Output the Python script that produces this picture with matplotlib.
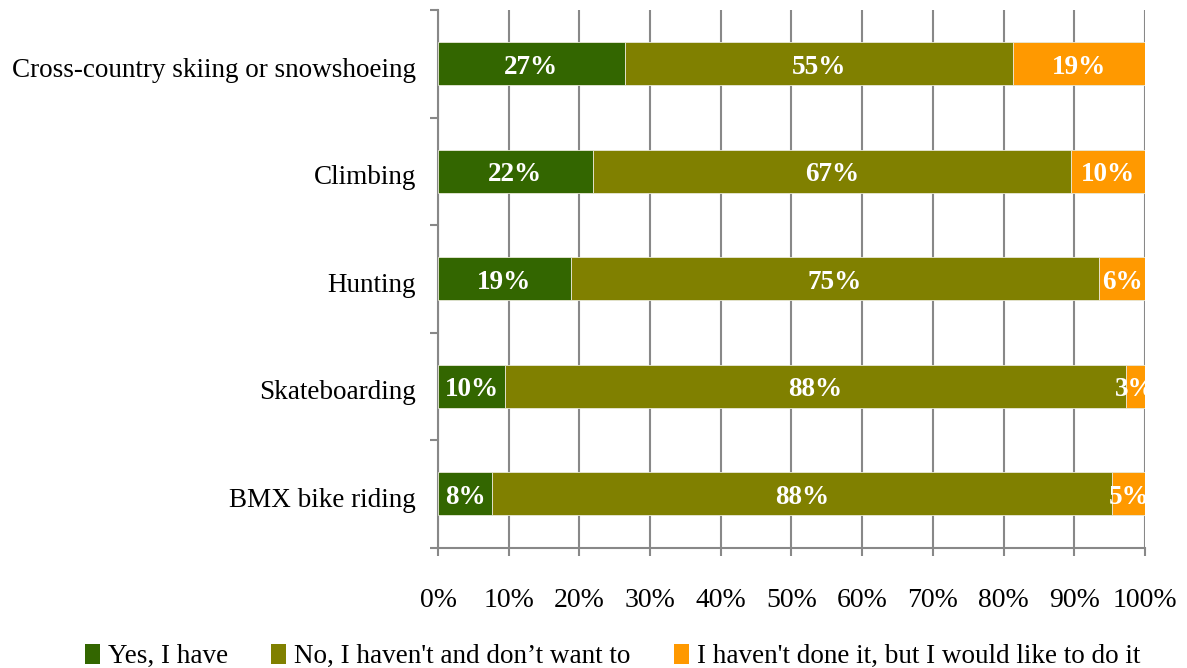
import matplotlib
matplotlib.use("Agg")
import matplotlib.pyplot as plt
from matplotlib.patches import Patch

plt.rcParams["font.family"] = ["Liberation Serif", "DejaVu Serif"]

# ===== data (bottom to top) =====
categories = ["BMX bike riding", "Skateboarding", "Hunting", "Climbing",
              "Cross-country skiing or snowshoeing"]
yes_have = [7.7, 9.5, 18.8, 21.9, 26.4]
no_dont_want = [87.7, 87.8, 74.7, 67.6, 54.9]
would_like = [4.6, 2.7, 6.5, 10.5, 18.7]
yes_labels = ["8%", "10%", "19%", "22%", "27%"]
no_labels = ["88%", "88%", "75%", "67%", "55%"]
like_labels = ["5%", "3%", "6%", "10%", "19%"]

series = ["Yes, I have", "No, I haven't and don\u2019t want to",
          "I haven't done it, but I would like to do it"]
COLORS = ["#336600", "#808000", "#FF9900"]
GRID = "#888888"

fig = plt.figure(figsize=(11.87, 6.68), dpi=100)
ax = fig.add_axes([0.369, 0.18, 0.5956, 0.805])

y = list(range(len(categories)))
left = [0.0] * len(categories)
for vals, labs, col in zip([yes_have, no_dont_want, would_like],
                           [yes_labels, no_labels, like_labels], COLORS):
    bars = ax.barh(y, vals, left=left, height=0.4, color=col,
                   edgecolor="#e8e8d8", linewidth=0.6, zorder=3)
    for b, lab in zip(bars, labs):
        ax.text(b.get_x() + b.get_width() / 2, b.get_y() + b.get_height() / 2 - 0.03,
                lab, ha="center", va="center", color="white", fontsize=19.5,
                fontweight="bold", zorder=4, clip_on=True)
    left = [l + v for l, v in zip(left, vals)]

ax.set_xlim(0, 100)
ax.set_ylim(-0.5, len(categories) - 0.5)
ax.set_xticks(range(0, 101, 10))
ax.set_xticklabels([f"{v}%" for v in range(0, 101, 10)], fontsize=20)
ax.tick_params(axis="x", direction="out", length=6, width=1.5, color=GRID, pad=23)

ax.set_yticks([i - 0.5 for i in range(len(categories) + 1)])
ax.set_yticklabels([])
ax.set_yticks([v - 0.03 for v in y], minor=True)
ax.set_yticklabels(categories, minor=True, fontsize=19.5)
ax.tick_params(axis="y", which="major", direction="out", length=6, width=1.5, color=GRID)
ax.tick_params(axis="y", which="minor", length=0, pad=16)

ax.grid(True, axis="x", color=GRID, linewidth=1.5, zorder=0)
ax.set_axisbelow(True)
for s in ["top", "right"]:
    ax.spines[s].set_visible(False)
for s in ["left", "bottom"]:
    ax.spines[s].set_color(GRID)
    ax.spines[s].set_linewidth(1.5)

handles = [Patch(facecolor=c, edgecolor="none") for c in COLORS]
fig.legend(handles, series, loc="center", bbox_to_anchor=(0.516, 0.017),
           ncol=3, frameon=False, fontsize=19.5, handlelength=0.55,
           handleheight=0.75, handletextpad=0.3, columnspacing=1.6)

fig.savefig("out.png", dpi=100)
